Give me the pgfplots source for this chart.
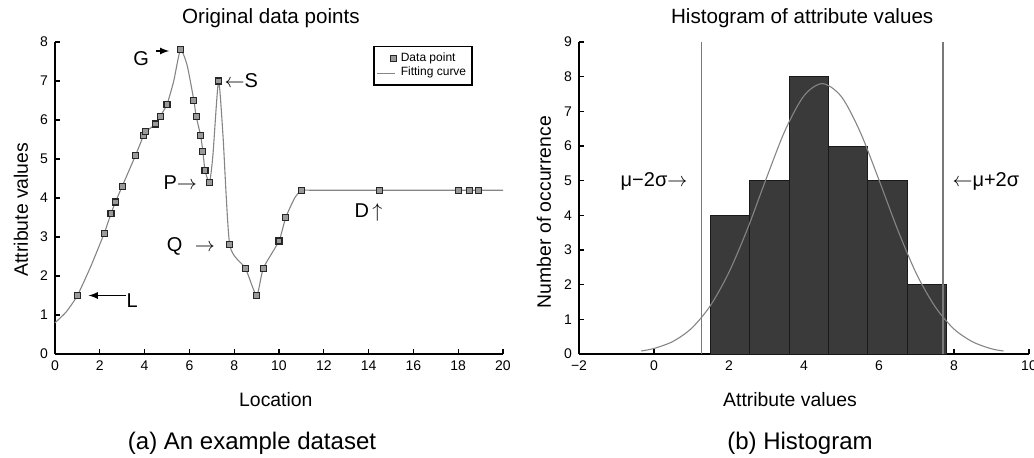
\documentclass[border=0pt]{standalone}
\usepackage{pgfplots}
\pgfplotsset{compat=1.18}
\usepackage{fontspec}
\setmainfont{Liberation Sans}
\definecolor{curvegray}{HTML}{858585}
\definecolor{markgray}{HTML}{9A9A9A}
\definecolor{bargray}{HTML}{3A3A3A}
\pgfplotsset{
  shortline/.style={legend image code/.code={\draw[##1] (0pt,0pt) -- (9pt,0pt);}},
  common/.style={
    scale only axis,
    axis x line*=bottom, axis y line*=left,
    axis line style={line width=0.7pt,black},
    tick align=inside,
    major tick length=2.5pt,
    tick style={line width=0.6pt,black},
    /pgf/number format/assume math mode=true,
    tick label style={font=\fontsize{7}{8}\selectfont},
    every axis title shift=0pt,
    title style={font=\fontsize{10.3}{12}\selectfont, anchor=center},
    every axis x label/.style={font=\fontsize{9.7}{11}\selectfont, anchor=center},
    every axis y label/.style={font=\fontsize{9.7}{11}\selectfont, anchor=center, rotate=90},
    clip=false,
  }
}
\pgfplotstableread{
x y
1 1.5
2.2 3.1
2.5 3.6
2.7 3.9
3.0 4.3
3.6 5.1
3.95 5.6
4.05 5.7
4.5 5.9
4.7 6.1
5.0 6.4
5.6 7.8
6.2 6.5
6.3 6.1
6.5 5.6
6.6 5.2
6.7 4.7
6.9 4.4
7.3 7.0
7.8 2.8
8.5 2.2
9.0 1.5
9.3 2.2
10.0 2.9
10.3 3.5
11.0 4.2
14.5 4.2
18.0 4.2
18.5 4.2
18.9 4.2
}\datapts
\pgfplotstableread{
x y
0 0.8
0.5 1.08
1 1.5
1.6 2.25
2.2 3.1
2.5 3.6
2.7 3.9
3.0 4.3
3.6 5.1
3.95 5.6
4.05 5.7
4.5 5.9
4.7 6.1
5.0 6.4
5.3 7.0
5.6 7.8
5.9 7.4
6.2 6.5
6.3 6.1
6.5 5.6
6.6 5.2
6.7 4.7
6.9 4.4
7.05 5.1
7.3 7.0
7.5 5.6
7.8 2.8
8.5 2.2
9.0 1.5
9.3 2.2
10.0 2.9
10.3 3.5
10.7 4.0
11.0 4.2
11.4 4.2
14.5 4.2
20 4.2
}\curvepts
\pgfplotstableread{
x y
1.5 4
2.55 5
3.6 8
4.65 6
5.7 5
6.75 2
7.8 2
}\histdata
\pgfplotstableread{
x y
-0.34 0.087
0 0.16
0.5 0.36
1 0.74
1.5 1.39
2 2.36
2.5 3.63
3 5.08
3.5 6.46
4 7.45
4.49 7.80
5 7.42
5.5 6.40
6 5.02
6.5 3.58
7 2.31
7.5 1.36
8 0.72
8.5 0.35
9 0.15
9.32 0.087
}\gausspts
\begin{document}
\begin{tikzpicture}
\begin{axis}[common,
  at={(27.5pt,-177pt)}, anchor=south west,
  width=224pt, height=156pt,
  xmin=0, xmax=20, ymin=0, ymax=8,
  xtick={0,2,...,20}, ytick={0,1,...,8},
  title={Original data points},
  title style={at={(0.482,1.077)}},
  xlabel={Location},
  xlabel style={at={(0.493,-0.147)}},
  ylabel={Attribute values},
  ylabel style={at={(-0.076,0.463)}},
  legend style={at={(0.933,0.988)}, anchor=north east, draw=black, line width=0.8pt,
    font=\fontsize{6}{7}\selectfont, inner sep=1pt, row sep=-2.5pt,
    legend cell align=left},
]
\addplot[curvegray, line width=0.55pt, smooth, tension=0.35, forget plot]
  table[x=x,y=y] {\curvepts};
\addplot[only marks, mark=square*, mark size=1.5pt,
  mark options={fill=markgray, draw=black!85, line width=0.6pt}]
  table[x=x,y=y] {\datapts};
\addlegendentry{Data point}
\addlegendimage{curvegray, line width=0.55pt, shortline}
\addlegendentry{Fitting curve}
% annotations
\node[font=\fontsize{10}{12}\selectfont] at (axis cs:3.85,7.57) {G};
\draw[-latex, line width=0.6pt] (axis cs:4.5,7.77) -- (axis cs:5.1,7.77);
\node[font=\fontsize{10}{12}\selectfont, anchor=west, inner sep=0pt] at (axis cs:7.55,7.0) {$\leftarrow$S};
\node[font=\fontsize{10}{12}\selectfont, anchor=east, inner sep=0pt] at (axis cs:6.35,4.4) {P$\rightarrow$};
\node[font=\fontsize{10}{12}\selectfont, anchor=east, inner sep=0pt] at (axis cs:7.15,2.75) {Q\,\, $\rightarrow$};
\node[font=\fontsize{10}{12}\selectfont] at (axis cs:14.0,3.62) {D\,$\uparrow$};
\draw[-latex, line width=0.6pt] (axis cs:3.15,1.5) -- (axis cs:1.5,1.5);
\node[font=\fontsize{10}{12}\selectfont] at (axis cs:3.45,1.38) {L};
\end{axis}

\begin{axis}[common,
  at={(289.5pt,-177pt)}, anchor=south west,
  width=225pt, height=156pt,
  xmin=-2, xmax=10, ymin=0, ymax=9,
  xtick={-2,0,2,...,10}, xticklabels={−2,0,2,4,6,8,10},
  ytick={0,1,...,9},
  title={Histogram of attribute values},
  title style={at={(0.496,1.077)}},
  xlabel={Attribute values},
  xlabel style={at={(0.469,-0.147)}},
  ylabel={Number of occurrence},
  ylabel style={at={(-0.078,0.455)}},
]
\addplot[ybar interval, fill=bargray, draw=black!90, line width=0.5pt]
  table[x=x,y=y] {\histdata};
\addplot[curvegray, line width=0.55pt, smooth] table[x=x,y=y] {\gausspts};
\addplot[gray!95!black, line width=0.8pt] coordinates {(1.27,0) (1.27,9)};
\addplot[gray!95!black, line width=0.8pt] coordinates {(7.71,0) (7.71,9)};
\node[font=\fontsize{10}{12}\selectfont, anchor=east, inner sep=0pt] at (axis cs:0.9,4.97) {μ−2σ$\rightarrow$};
\node[font=\fontsize{10}{12}\selectfont, anchor=west, inner sep=0pt] at (axis cs:7.95,4.97) {$\leftarrow$μ+2σ};
\end{axis}

\node[font=\fontsize{12}{14}\selectfont] at (126pt,-221.5pt) {(a) An example dataset};
\node[font=\fontsize{12}{14}\selectfont] at (400pt,-221.5pt) {(b) Histogram};

\pgfresetboundingbox
\path[use as bounding box] (0pt,0pt) rectangle (517pt,-228.5pt);
\end{tikzpicture}
\end{document}
